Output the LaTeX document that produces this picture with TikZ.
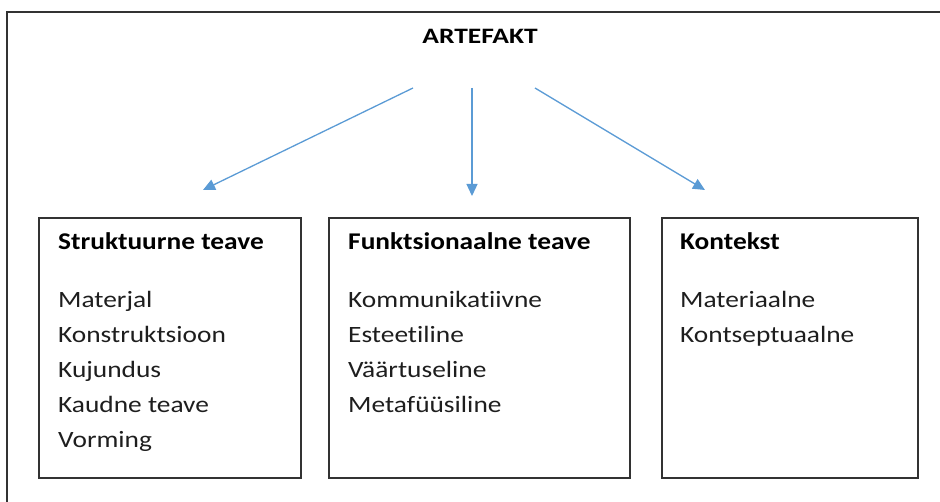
\documentclass[tikz,border=0pt]{standalone}
\usepackage{fontspec}
\setmainfont{Carlito}[Ligatures=NoCommon]
\newfontfamily\titlefont{Carlito}[Ligatures=NoCommon, FakeStretch=1.25]
\newfontfamily\headfont{Carlito}[Ligatures=NoCommon, FakeStretch=1.14]
\newfontfamily\itemfont{Carlito}[Ligatures=NoCommon, FakeStretch=1.17]
\usetikzlibrary{arrows.meta,positioning}
\definecolor{arblue}{RGB}{91,155,213}
\definecolor{arframe}{RGB}{50,50,50}
\definecolor{artext}{RGB}{30,30,30}
\tikzstyle{arrow} = [line width=1.3pt,-{Triangle[length=12pt,width=11pt]},color=arblue]
\tikzstyle{infobox} = [rectangle, draw=arframe, line width=1.3pt, minimum height=260pt, inner sep=0pt]

\begin{document}
\begin{tikzpicture}[x=1pt, y=-1pt,
    heading/.style={font=\headfont\fontsize{24}{28}\selectfont\bfseries, anchor=base west, inner sep=0pt},
    item/.style={font=\itemfont\fontsize{23.4}{28}\selectfont, text=artext, anchor=base west, inner sep=0pt}]

\useasboundingbox (0,0) rectangle (940,502);

% Outer frame (cut off at right and bottom)
\draw[arframe, line width=1.8pt] (7,502) -- (7,12) -- (940,12);

% Title
\node[font=\titlefont\fontsize{22}{26}\selectfont\bfseries, anchor=base, inner sep=0pt] (artefakt) at (480,44) {ARTEFAKT};

% Boxes
\node[infobox, minimum width=262pt] (struct) at (170,348) {};
\node[infobox, minimum width=301pt] (funk) at (479.5,348) {};
\node[infobox, minimum width=256pt] (kont) at (790,348) {};

% Headings
\node[heading] (structhead) at (58,250) {Struktuurne teave};
\node[heading] (funkhead) at (348,250) {Funktsionaalne teave};
\node[heading] (konthead) at (680,250) {Kontekst};

% Items
\node[item] (materjal) at (58,308) {Materjal};
\node[item] (konstr) at (58,343) {Konstruktsioon};
\node[item] (kujundus) at (58,378) {Kujundus};
\node[item] (kaudne) at (58,413) {Kaudne teave};
\node[item] (vorming) at (58,448) {Vorming};

\node[item] (kommun) at (348,308) {Kommunikatiivne};
\node[item] (esteet) at (348,343) {Esteetiline};
\node[item] (vaartus) at (348,378) {Väärtuseline};
\node[item] (metaf) at (348,413) {Metafüüsiline};

\node[item] (materiaal) at (680,308) {Materiaalne};
\node[item] (kontsept) at (680,343) {Kontseptuaalne};

% Arrow ends
\coordinate (leftstart) at (413,88);
\coordinate (leftend) at (203,190);
\coordinate (midstart) at (472,88);
\coordinate (midend) at (472,196);
\coordinate (rightstart) at (535,88);
\coordinate (rightend) at (705,190);

% Arrows
\draw[arrow] (leftstart) -- (leftend);
\draw[arrow] (midstart) -- (midend);
\draw[arrow] (rightstart) -- (rightend);
\end{tikzpicture}
\end{document}
